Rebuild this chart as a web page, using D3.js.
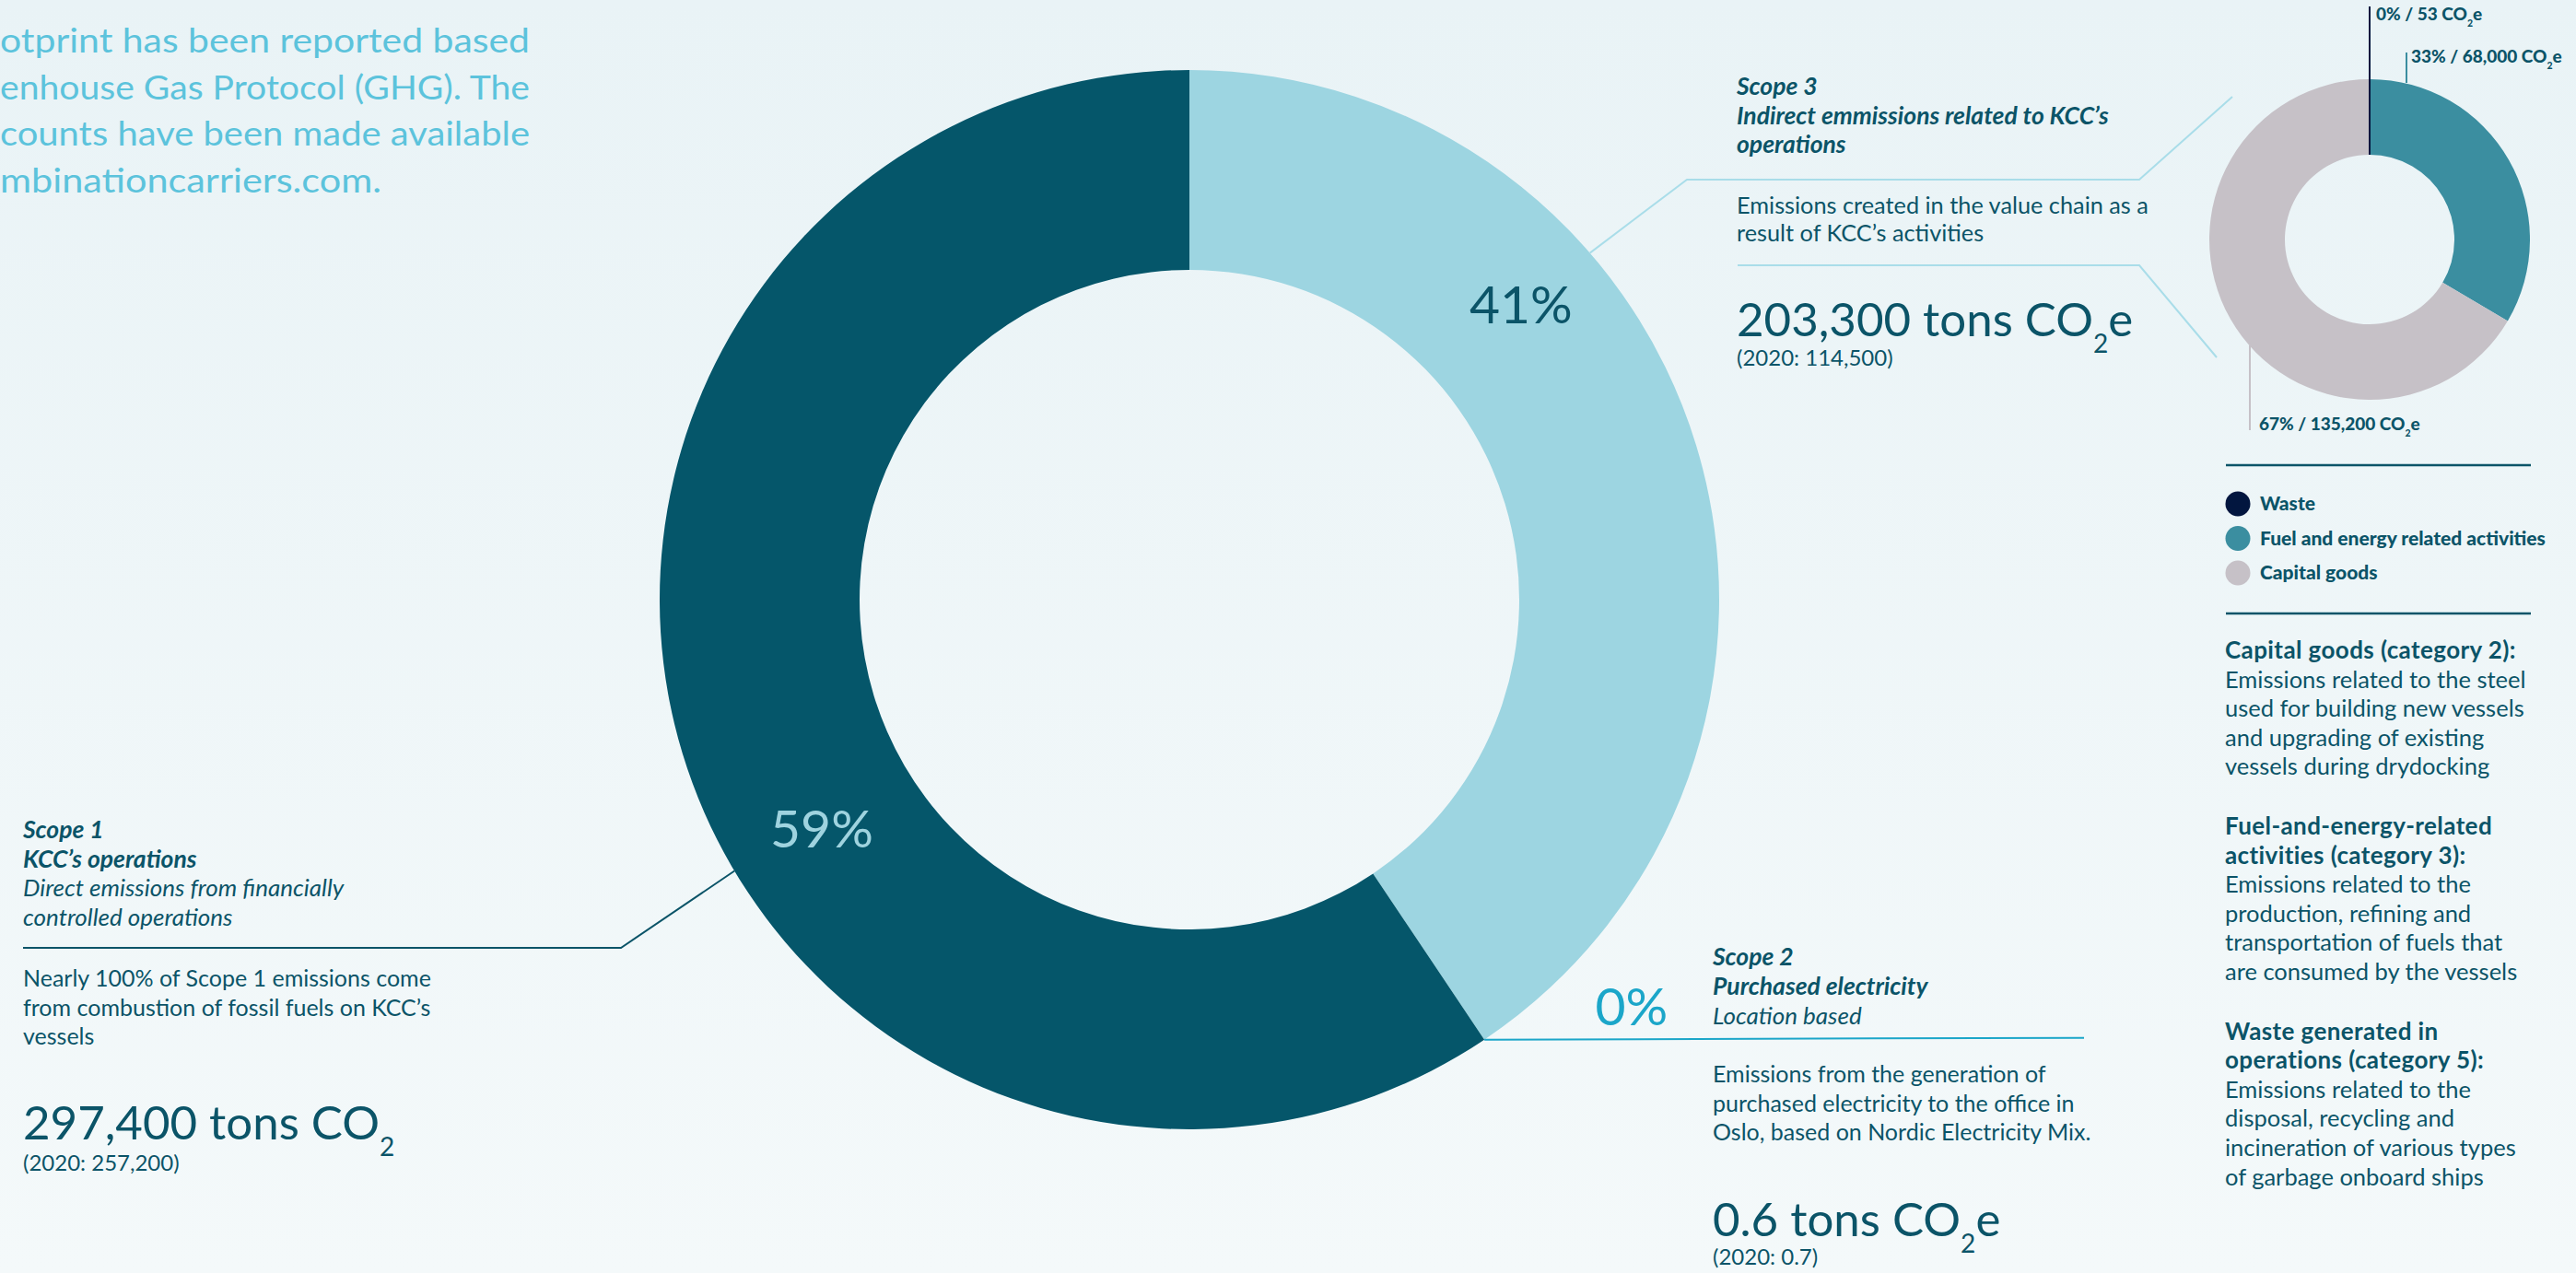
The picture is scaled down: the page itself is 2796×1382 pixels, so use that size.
<!DOCTYPE html>
<html>
<head>
<meta charset="utf-8">
<script src="https://cdn.jsdelivr.net/npm/d3@7"></script>
<style>
  body { margin: 0; overflow: hidden; }
  svg { display: block; font-family: Lato, "Noto Sans", sans-serif; }
</style>
</head>
<body>
<div id="canvas"></div>
<script>
"use strict"

/* Chart data: main donut (tons CO2e per scope, clockwise from 12 o'clock) */
let scopeNames = ["Scope 3", "Scope 2", "Scope 1"];
let scopeValues = [203300, 0.6, 297400];
let scopePrevious = [114500, 0.7, 257200];

/* Scope 3 breakdown (small donut, clockwise from 12 o'clock) */
let scope3Categories = ["Waste", "Fuel and energy related activities", "Capital goods"];
let scope3Values = [53, 68000, 135200];

/* Text blocks */
let introLines = ["otprint has been reported based", "enhouse Gas Protocol (GHG). The",
                  "counts have been made available", "mbinationcarriers.com."];
let scope1Title = ["Scope 1", "KCC\u2019s operations"];
let scope1Sub = ["Direct emissions from financially", "controlled operations"];
let scope1Body = ["Nearly 100% of Scope 1 emissions come", "from combustion of fossil fuels on KCC\u2019s", "vessels"];
let scope2Title = ["Scope 2", "Purchased electricity"];
let scope2Sub = ["Location based"];
let scope2Body = ["Emissions from the generation of", "purchased electricity to the office in", "Oslo, based on Nordic Electricity Mix."];
let scope3Title = ["Scope 3", "Indirect emmissions related to KCC\u2019s", "operations"];
let scope3Body = ["Emissions created in the value chain as a", "result of KCC\u2019s activities"];
let notes = [
  {head: ["Capital goods (category 2):"],
   body: ["Emissions related to the steel", "used for building new vessels", "and upgrading of existing", "vessels during drydocking"]},
  {head: ["Fuel-and-energy-related", "activities (category 3):"],
   body: ["Emissions related to the", "production, refining and", "transportation of fuels that", "are consumed by the vessels"]},
  {head: ["Waste generated in", "operations (category 5):"],
   body: ["Emissions related to the", "disposal, recycling and", "incineration of various types", "of garbage onboard ships"]}
];

/* Drawing configuration */
let svgWidth = 2796;
let svgHeight = 1382;
let textDark = "#0b5468";
let lineH = 31.6;

let scopeColor = d3.scaleOrdinal()
    .domain(scopeNames)
    .range(["#9dd5e1", "#1ba6c9", "#05566a"]);
let catColor = d3.scaleOrdinal()
    .domain(scope3Categories)
    .range(["#02163f", "#3b8ea0", "#c6c1c7"]);

let fmtNum = d3.format(",");
let fmtPct = d3.format(".0%");

let svg = d3.select("#canvas")
    .append("svg")
    .attr("width", svgWidth)
    .attr("height", svgHeight);

/* Background gradient */
let grad = svg.append("defs").append("linearGradient")
    .attr("id", "bg").attr("x1", 0).attr("y1", 0).attr("x2", 0).attr("y2", 1);
grad.append("stop").attr("offset", "0%").attr("stop-color", "#e9f3f6");
grad.append("stop").attr("offset", "100%").attr("stop-color", "#f4f9fa");
svg.append("rect")
    .attr("width", svgWidth)
    .attr("height", svgHeight)
    .attr("fill", "url(#bg)");

/* helper: several lines of text */
function textLines(lines, x, y, opts) {
  let t = svg.append("text")
      .attr("x", x).attr("y", y)
      .attr("fill", opts.color || textDark)
      .attr("font-size", opts.size || 25)
      .attr("font-weight", opts.weight || 400)
      .attr("letter-spacing", opts.spacing || 0)
      .attr("font-style", opts.italic ? "italic" : "normal");
  lines.forEach(function (line, i) {
    t.append("tspan").attr("x", x).attr("y", y + i * (opts.step || lineH)).text(line);
  });
  return t;
}

/* helper: value with CO2 subscript */
function co2Text(x, y, size, main, tail, weight) {
  let t = svg.append("text")
      .attr("x", x).attr("y", y)
      .attr("fill", textDark)
      .attr("font-size", size)
      .attr("font-weight", weight || 400);
  t.append("tspan").text(main);
  t.append("tspan").attr("font-size", size * 0.55).attr("dy", size * 0.36).text("2");
  if (tail) t.append("tspan").attr("dy", -size * 0.36).text(tail);
  return t;
}

/* Intro paragraph (cut off at the left edge) */
introLines.forEach(function (line, i) {
  svg.append("text")
      .attr("x", 0)
      .attr("y", 57 + i * 50.6)
      .attr("fill", "#5cc3dc")
      .attr("font-size", 36)
      .attr("textLength", i < 3 ? 575 : 414)
      .attr("lengthAdjust", "spacingAndGlyphs")
      .text(line);
});

/* ---- Main donut ---- */
let cx = 1291, cy = 651, rOuter = 575, rInner = 358;
let mainPie = d3.pie().sort(null).value(function (d) { return d; });
let mainArcs = mainPie(scopeValues);
let mainArc = d3.arc().innerRadius(rInner).outerRadius(rOuter);
let total = d3.sum(scopeValues);

function polar(r, a) {
  return [cx + r * Math.sin(a), cy - r * Math.cos(a)];
}

svg.append("g")
    .attr("transform", "translate(" + cx + "," + cy + ")")
    .selectAll("path")
    .data(mainArcs)
    .join("path")
    .attr("d", mainArc)
    .attr("fill", function (d, i) { return scopeColor(scopeNames[i]); });

/* percentage labels */
let labelPos = [{a: 48.3, r: 482, color: textDark},
                {a: 132.6, r: 652, color: "#1ba6c9"},
                {a: 238.1, r: 470, color: "#9fd3df"}];
mainArcs.forEach(function (d, i) {
  let p = polar(labelPos[i].r, labelPos[i].a * Math.PI / 180);
  svg.append("text")
      .attr("x", p[0])
      .attr("y", p[1] + 21)
      .attr("text-anchor", "middle")
      .attr("font-size", 57)
      .attr("font-weight", 400)
      .attr("fill", labelPos[i].color)
      .text(fmtPct(d.value / total));
});

let line = d3.line();

/* Scope 3 leader lines */
let s3Start = polar(rOuter, mainArcs[0].startAngle + (mainArcs[0].endAngle - mainArcs[0].startAngle) * 0.336);
svg.append("path")
    .attr("d", line([s3Start, [1831, 195], [2322, 195], [2423, 105]]))
    .attr("fill", "none").attr("stroke", "#a9dde9").attr("stroke-width", 2);
svg.append("path")
    .attr("d", line([[1886, 288], [2322, 288], [2406, 388]]))
    .attr("fill", "none").attr("stroke", "#a9dde9").attr("stroke-width", 2);

/* Scope 2 leader line */
let s2Start = polar(rOuter, mainArcs[1].startAngle);
svg.append("path")
    .attr("d", line([s2Start, [2262, s2Start[1] - 2]]))
    .attr("fill", "none").attr("stroke", "#1ba6c9").attr("stroke-width", 2);

/* Scope 1 leader line */
let s1Start = polar(rOuter, mainArcs[2].startAngle + (mainArcs[2].endAngle - mainArcs[2].startAngle) * 0.435);
svg.append("path")
    .attr("d", line([s1Start, [674, 1029], [25, 1029]]))
    .attr("fill", "none").attr("stroke", "#0b5468").attr("stroke-width", 2);

/* Scope 1 text */
textLines(scope1Title, 25, 910, {weight: 700, italic: true, size: 26.5});
textLines(scope1Sub, 25, 973, {italic: true, size: 26});
textLines(scope1Body, 25, 1071, {});
co2Text(25, 1237, 51, fmtNum(scopeValues[2]) + " tons CO", "");
textLines(["(2020: " + fmtNum(scopePrevious[2]) + ")"], 25, 1271, {size: 24});

/* Scope 3 text */
textLines(scope3Title, 1885, 103, {weight: 700, italic: true, size: 26.5});
textLines(scope3Body, 1885, 232, {step: 30, size: 25.3});
co2Text(1885, 365, 51, fmtNum(scopeValues[0]) + " tons CO", "e");
textLines(["(2020: " + fmtNum(scopePrevious[0]) + ")"], 1885, 397, {size: 24});

/* Scope 2 text */
textLines(scope2Title, 1859, 1048, {weight: 700, italic: true, size: 26.5});
textLines(scope2Sub, 1859, 1112, {italic: true, size: 26});
textLines(scope2Body, 1859, 1175, {});
co2Text(1859, 1342, 51, fmtNum(scopeValues[1]) + " tons CO", "e");
textLines(["(2020: " + fmtNum(scopePrevious[1]) + ")"], 1859, 1373, {size: 24});

/* ---- Small donut: Scope 3 categories ---- */
let sx = 2572, sy = 260, sOuter = 174, sInner = 92;
let smallArcs = d3.pie().sort(null).value(function (d) { return d; })(scope3Values);
let smallArc = d3.arc().innerRadius(sInner).outerRadius(sOuter);
let total3 = d3.sum(scope3Values);

svg.append("g")
    .attr("transform", "translate(" + sx + "," + sy + ")")
    .selectAll("path")
    .data(smallArcs)
    .join("path")
    .attr("d", smallArc)
    .attr("fill", function (d, i) { return catColor(scope3Categories[i]); });

/* small donut callouts */
let callouts = [{x: sx, y1: sy - sInner, y2: 7, tx: 2579, ty: 22},
                {x: 2612, y1: 90, y2: 57, tx: 2617, ty: 68},
                {x: 2442, y1: 375, y2: 467, tx: 2452, ty: 467}];
smallArcs.forEach(function (d, i) {
  let c = callouts[i];
  svg.append("line")
      .attr("x1", c.x).attr("x2", c.x)
      .attr("y1", c.y1).attr("y2", c.y2)
      .attr("stroke", catColor(scope3Categories[i]))
      .attr("stroke-width", 2);
  co2Text(c.tx, c.ty, 19, fmtPct(d.value / total3) + " / " + fmtNum(d.value) + " CO", "e", 900);
});

/* legend */
svg.append("line").attr("x1", 2416).attr("x2", 2747).attr("y1", 505).attr("y2", 505)
    .attr("stroke", textDark).attr("stroke-width", 2.5);
svg.append("line").attr("x1", 2416).attr("x2", 2747).attr("y1", 666).attr("y2", 666)
    .attr("stroke", textDark).attr("stroke-width", 2.5);

scope3Categories.forEach(function (name, i) {
  svg.append("circle")
      .attr("cx", 2429)
      .attr("cy", 547 + i * 37.5)
      .attr("r", 13.5)
      .attr("fill", catColor(name));
  svg.append("text")
      .attr("x", 2453)
      .attr("y", 554 + i * 37.5)
      .attr("fill", textDark)
      .attr("font-size", 21)
      .attr("font-weight", 900)
      .text(name);
});

/* category notes */
let noteY = 715;
notes.forEach(function (n) {
  textLines(n.head, 2415, noteY, {weight: 700, size: 26, spacing: 0.4});
  textLines(n.body, 2415, noteY + n.head.length * lineH, {size: 25.5});
  noteY += (n.head.length + n.body.length) * lineH + 33;
});
</script>
</body>
</html>
